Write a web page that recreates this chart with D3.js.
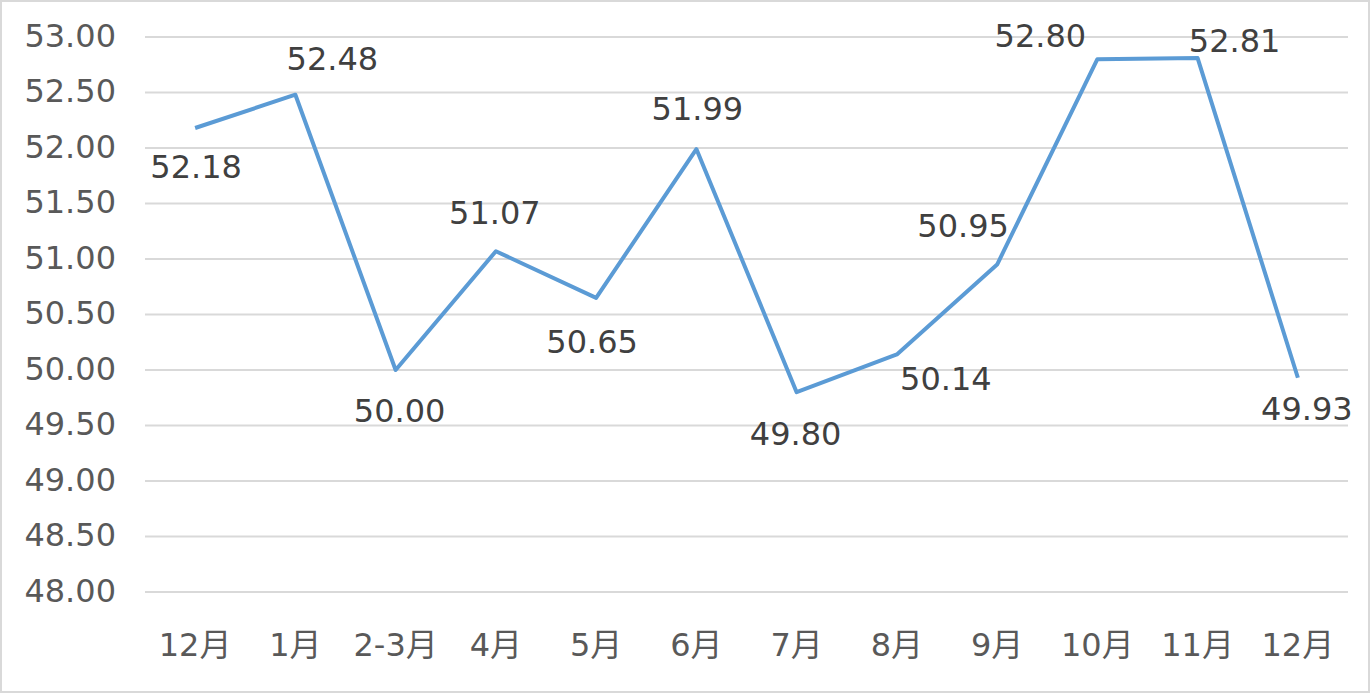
<!DOCTYPE html>
<html><head><meta charset="utf-8">
<script src="https://cdn.jsdelivr.net/npm/d3@7"></script>
<style>
html,body{margin:0;padding:0;background:#fff;}
text{font-family:"DejaVu Sans","Noto Sans CJK SC",sans-serif;}
</style></head>
<body><svg id="chart" width="1372" height="694"></svg>
<script>
const categories = ["12月","1月","2-3月","4月","5月","6月","7月","8月","9月","10月","11月","12月"];
const values = [52.18,52.48,50.00,51.07,50.65,51.99,49.80,50.14,50.95,52.80,52.81,49.93];
const yTicks = [48,48.5,49,49.5,50,50.5,51,51.5,52,52.5,53];
// label placement offsets (px) relative to point
const labelDx = [1,37,4,-1,-4,1,-1,49,-34,-57,37,9];
const labelDy = [50,-25,52,-27,55,-29,53,36,-28,-12,-6,42];

(function(){
const svg = d3.select("#chart");
const W = 1372, H = 694;
svg.append("rect").attr("x",1).attr("y",1).attr("width",W-4).attr("height",H-3)
  .attr("fill","#fff").attr("stroke","#d9d9d9").attr("stroke-width",2);

const mLeft = 145, mRight = 1348, mTop = 37, mBottom = 592;
const x = d3.scaleBand().domain(d3.range(categories.length)).range([mLeft,mRight]);
const y = d3.scaleLinear().domain([48,53]).range([mBottom,mTop]);

svg.append("g").selectAll("line").data(yTicks).join("line")
  .attr("x1",mLeft).attr("x2",mRight)
  .attr("y1",d=>y(d)).attr("y2",d=>y(d))
  .attr("stroke","#d9d9d9").attr("stroke-width",2);

svg.append("g").selectAll("text").data(yTicks).join("text")
  .attr("x",116).attr("y",d=>y(d)-1.5)
  .attr("text-anchor","end").attr("dominant-baseline","central")
  .attr("font-size",32).attr("fill","#595959")
  .text(d=>d3.format(".2f")(d));

svg.append("g").selectAll("text").data(categories).join("text")
  .attr("x",(d,i)=>x(i)+x.bandwidth()/2).attr("y",656)
  .attr("text-anchor","middle")
  .attr("font-size",32).attr("fill","#595959")
  .text(d=>d);

const line = d3.line().x((d,i)=>x(i)+x.bandwidth()/2).y(d=>y(d));
svg.append("path").datum(values).attr("d",line)
  .attr("fill","none").attr("stroke","#5b9bd5").attr("stroke-width",4)
  .attr("stroke-linejoin","round");

svg.append("g").selectAll("text").data(values).join("text")
  .attr("x",(d,i)=>x(i)+x.bandwidth()/2+labelDx[i])
  .attr("y",(d,i)=>y(d)+labelDy[i])
  .attr("text-anchor","middle")
  .attr("font-size",32).attr("fill","#404040")
  .text(d=>d3.format(".2f")(d));
})();
</script></body></html>
